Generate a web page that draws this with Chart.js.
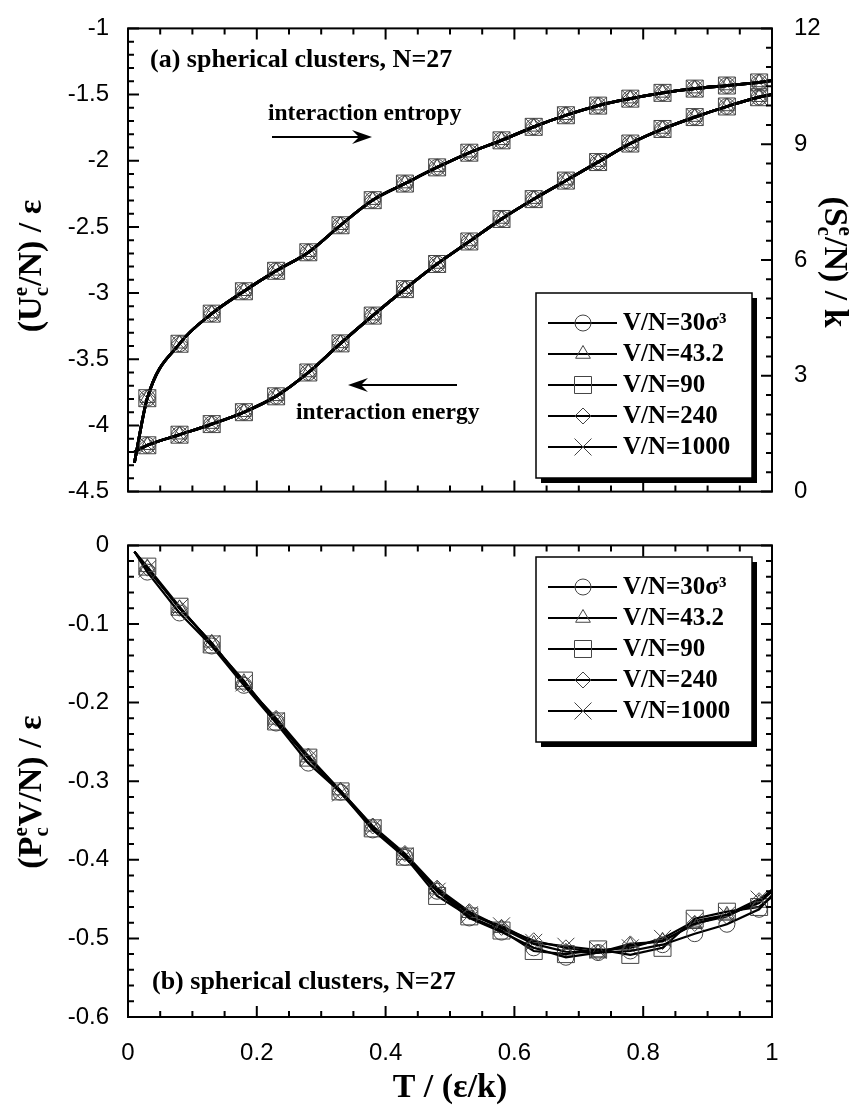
<!DOCTYPE html>
<html>
<head>
<meta charset="utf-8">
<script src="https://cdn.jsdelivr.net/npm/chart.js@4.4.1/dist/chart.umd.min.js"></script>
<style>
  html, body { margin: 0; padding: 0; background: #fff; }
  #wrap { position: relative; width: 864px; height: 1106px; }
  canvas { position: absolute; left: 0; }
  #topChart { top: 0; }
  #botChart { top: 520px; }
</style>
</head>
<body>
<div id="wrap">
  <canvas id="topChart" width="864" height="520"></canvas>
  <canvas id="botChart" width="864" height="586"></canvas>
</div>
<script>
// temperatures where the symbols sit
const temps = [0.03, 0.08, 0.13, 0.18, 0.23, 0.28, 0.33, 0.38, 0.43, 0.48,
               0.53, 0.58, 0.63, 0.68, 0.73, 0.78, 0.83, 0.88, 0.93, 0.98];
// the lines run a little further at both ends
const lineEndTemps = [0.01, 1.0];

const volumeLabels = ["V/N=30σ³", "V/N=43.2", "V/N=90", "V/N=240", "V/N=1000"];
const markerStyles = ["circle", "triangle", "rect", "rectRot", "crossRot"];
const markerSizes = [8, 8.5, 12, 8, 12];

// (a) interaction energy (left axis) and entropy (right axis), same for every volume
const energy = [-4.15, -4.07, -3.99, -3.90, -3.78, -3.60, -3.38, -3.17, -2.97, -2.78,
                -2.61, -2.44, -2.29, -2.15, -2.01, -1.87, -1.76, -1.67, -1.59, -1.52];
const energyEnds = [-4.20, -1.50];
const entropy = [2.42, 3.83, 4.61, 5.19, 5.72, 6.20, 6.90, 7.55, 7.98, 8.40,
                 8.78, 9.10, 9.45, 9.75, 10.00, 10.18, 10.33, 10.44, 10.52, 10.60];
const entropyEnds = [0.75, 10.65];

// (b) pressure contribution for each volume
const pressure30   = [-0.034, -0.086, -0.128, -0.178, -0.226, -0.277, -0.314, -0.362, -0.397, -0.440,
                      -0.474, -0.492, -0.512, -0.524, -0.518, -0.516, -0.508, -0.494, -0.482, -0.463];
const pressure43   = [-0.028, -0.080, -0.124, -0.174, -0.222, -0.270, -0.312, -0.358, -0.394, -0.438,
                      -0.468, -0.487, -0.507, -0.517, -0.518, -0.509, -0.503, -0.482, -0.470, -0.455];
const pressure90   = [-0.027, -0.078, -0.126, -0.172, -0.224, -0.270, -0.313, -0.360, -0.396, -0.446,
                      -0.472, -0.490, -0.516, -0.520, -0.514, -0.521, -0.512, -0.475, -0.466, -0.460];
const pressure240  = [-0.029, -0.080, -0.124, -0.176, -0.220, -0.268, -0.312, -0.357, -0.392, -0.436,
                      -0.466, -0.486, -0.503, -0.512, -0.518, -0.507, -0.504, -0.481, -0.472, -0.452];
const pressure1000 = [-0.030, -0.079, -0.125, -0.175, -0.223, -0.271, -0.315, -0.359, -0.395, -0.440,
                      -0.470, -0.484, -0.505, -0.510, -0.515, -0.512, -0.500, -0.478, -0.470, -0.450];
const pressureEnds = [[-0.008, -0.445], [-0.008, -0.440], [-0.008, -0.447], [-0.008, -0.438], [-0.008, -0.441]];
const pressure = [pressure30, pressure43, pressure90, pressure240, pressure1000];

const serif = "'Liberation Serif', 'Times New Roman', serif";
const sans = "'Liberation Sans', Arial, sans-serif";
const tickFont = { family: sans, size: 24 };
const markerColor = "#444";

function curve(values, ends) {
    const pts = temps.map((t, i) => ({ x: t, y: values[i] }));
    pts.unshift({ x: lineEndTemps[0], y: ends[0] });
    pts.push({ x: lineEndTemps[1], y: ends[1] });
    return pts;
}

function seriesDataset(i, data, axis, lineWidth, smooth) {
    return {
        label: volumeLabels[i],
        data: data,
        yAxisID: axis,
        borderColor: "#000",
        borderWidth: lineWidth,
        cubicInterpolationMode: smooth ? "monotone" : "default",
        tension: 0,
        fill: false,
        pointStyle: markerStyles[i],
        pointRadius: (c) =>
            c.dataIndex === 0 || c.dataIndex === data.length - 1 ? 0 : markerSizes[i],
        pointBorderColor: markerColor,
        pointBorderWidth: 1,
        pointBackgroundColor: "rgba(0,0,0,0)",
    };
}

function fmt(v) {
    return String(Number(v.toFixed(1)));
}

// walk minor tick positions, flag the major ones
function eachTick(min, max, minor, major, fn) {
    const n = Math.round((max - min) / minor);
    for (let k = 0; k <= n; k++) {
        const v = min + k * minor;
        const r = v / major;
        fn(v, Math.abs(r - Math.round(r)) < 1e-6);
    }
}

// box round the plot with inward ticks on all four sides
function drawFrame(chart, left, leftSteps, right, rightSteps) {
    const ctx = chart.ctx;
    const a = chart.chartArea;
    const x = chart.scales.x;
    ctx.save();
    ctx.strokeStyle = "#000";
    ctx.lineWidth = 2;
    ctx.strokeRect(a.left, a.top, a.right - a.left, a.bottom - a.top);
    ctx.beginPath();
    eachTick(0, 1, 0.05, 0.2, (v, big) => {
        const p = x.getPixelForValue(v);
        const len = big ? 11 : 6;
        ctx.moveTo(p, a.bottom); ctx.lineTo(p, a.bottom - len);
        ctx.moveTo(p, a.top); ctx.lineTo(p, a.top + len);
    });
    eachTick(left.min, left.max, leftSteps[1], leftSteps[0], (v, big) => {
        const p = left.getPixelForValue(v);
        ctx.moveTo(a.left, p); ctx.lineTo(a.left + (big ? 11 : 6), p);
    });
    eachTick(right.min, right.max, rightSteps[1], rightSteps[0], (v, big) => {
        const p = right.getPixelForValue(v);
        ctx.moveTo(a.right, p); ctx.lineTo(a.right - (big ? 11 : 6), p);
    });
    ctx.stroke();
    ctx.restore();
}

// text with stacked sub/superscripts, centred on (x, y)
function drawRich(ctx, parts, x, y, size) {
    const big = `bold ${size}px ${serif}`;
    const small = `bold ${Math.round(size * 0.62)}px ${serif}`;
    const widths = parts.map((p) => {
        if (typeof p === "string") {
            ctx.font = big;
            return ctx.measureText(p).width;
        }
        ctx.font = small;
        return Math.max(ctx.measureText(p.sub || "").width, ctx.measureText(p.sup || "").width) + 1;
    });
    const total = widths.reduce((s, w) => s + w, 0);
    let cx = x - total / 2;
    const base = y + size * 0.33;
    ctx.textAlign = "left";
    ctx.textBaseline = "alphabetic";
    parts.forEach((p, i) => {
        if (typeof p === "string") {
            ctx.font = big;
            ctx.fillText(p, cx, base);
        } else {
            ctx.font = small;
            if (p.sup) ctx.fillText(p.sup, cx, base - size * 0.42);
            if (p.sub) ctx.fillText(p.sub, cx, base + size * 0.2);
        }
        cx += widths[i];
    });
}

function arrow(ctx, x1, y, x2) {
    const dir = Math.sign(x2 - x1);
    ctx.lineWidth = 2;
    ctx.beginPath();
    ctx.moveTo(x1, y);
    ctx.lineTo(x2 - dir * 10, y);
    ctx.stroke();
    ctx.beginPath();
    ctx.moveTo(x2, y);
    ctx.lineTo(x2 - dir * 20, y - 7);
    ctx.lineTo(x2 - dir * 13, y);
    ctx.lineTo(x2 - dir * 20, y + 7);
    ctx.closePath();
    ctx.fill();
}

function drawLegend(ctx, top) {
    const left = 536, w = 216, h = 185;
    ctx.save();
    ctx.fillStyle = "#000";
    ctx.fillRect(left + 5, top + 5, w, h);
    ctx.fillStyle = "#fff";
    ctx.fillRect(left, top, w, h);
    ctx.strokeStyle = "#000";
    ctx.lineWidth = 1.5;
    ctx.strokeRect(left, top, w, h);
    volumeLabels.forEach((label, i) => {
        const y = top + 30 + i * 31;
        ctx.strokeStyle = "#000";
        ctx.lineWidth = 2;
        ctx.beginPath();
        ctx.moveTo(548, y);
        ctx.lineTo(617, y);
        ctx.stroke();
        ctx.fillStyle = "rgba(0,0,0,0)";
        ctx.strokeStyle = markerColor;
        ctx.lineWidth = 1;
        Chart.helpers.drawPoint(ctx, {
            pointStyle: markerStyles[i], radius: markerSizes[i], rotation: 0, borderWidth: 1,
        }, 583, y);
        ctx.fillStyle = "#000";
        ctx.font = `bold 25px ${serif}`;
        ctx.textAlign = "left";
        ctx.textBaseline = "middle";
        ctx.fillText(label, 623, y + 1);
    });
    ctx.restore();
}

const hiddenX = {
    type: "linear", min: 0, max: 1,
    grid: { display: false }, border: { display: false },
    ticks: { display: false },
};

// ---- (a) energy and entropy ----
const topDatasets = [];
volumeLabels.forEach((_, i) => {
    topDatasets.push(seriesDataset(i, curve(energy, energyEnds), "yU", 2.8, true));
    topDatasets.push(seriesDataset(i, curve(entropy, entropyEnds), "yS", 2.8, true));
});

new Chart(document.getElementById("topChart"), {
    type: "line",
    data: { datasets: topDatasets },
    options: {
        responsive: false,
        animation: false,
        layout: { padding: { top: 23, left: 0, right: 0, bottom: 0 } },
        plugins: { legend: { display: false }, tooltip: { enabled: false } },
        scales: {
            x: Object.assign({}, hiddenX, { afterFit: (s) => { s.height = 21; } }),
            yU: {
                position: "left", min: -4.5, max: -1,
                grid: { display: false }, border: { display: false },
                ticks: { stepSize: 0.5, font: tickFont, color: "#000", padding: 11, callback: fmt },
                afterFit: (s) => { s.width = 128; },
            },
            yS: {
                position: "right", min: 0, max: 12,
                grid: { display: false }, border: { display: false },
                ticks: { stepSize: 3, font: tickFont, color: "#000", padding: 14, callback: fmt },
                afterFit: (s) => { s.width = 92; },
            },
        },
    },
    plugins: [{
        id: "panelA",
        afterDraw: (chart) => {
            const ctx = chart.ctx;
            drawFrame(chart, chart.scales.yU, [0.5, 0.1], chart.scales.yS, [3, 0.5]);
            ctx.save();
            ctx.fillStyle = "#000";
            ctx.strokeStyle = "#000";
            ctx.textAlign = "left";
            ctx.textBaseline = "middle";
            ctx.font = `bold 26px ${serif}`;
            ctx.fillText("(a) spherical clusters, N=27", 150, 60);
            ctx.font = `bold 23.5px ${serif}`;
            ctx.fillText("interaction entropy", 268, 114);
            ctx.fillText("interaction energy", 296, 413);
            arrow(ctx, 272, 137, 372);
            arrow(ctx, 457, 385, 348);

            ctx.save();
            ctx.translate(30, 266);
            ctx.rotate(-Math.PI / 2);
            drawRich(ctx, ["(U", { sub: "c", sup: "e" }, "/N) / ε"], 0, 0, 34);
            ctx.restore();

            ctx.save();
            ctx.translate(836, 262);
            ctx.rotate(Math.PI / 2);
            drawRich(ctx, ["(S", { sub: "c", sup: "e" }, "/N) / k"], 0, 0, 34);
            ctx.restore();
            ctx.restore();

            drawLegend(ctx, 293);
        },
    }],
});

// ---- (b) pressure ----
const botDatasets = pressure.map((vals, i) =>
    seriesDataset(i, curve(vals, pressureEnds[i]), "y", 2.2, false));

new Chart(document.getElementById("botChart"), {
    type: "line",
    data: { datasets: botDatasets },
    options: {
        responsive: false,
        animation: false,
        layout: { padding: { top: 21, left: 0, right: 92, bottom: 0 } },
        plugins: { legend: { display: false }, tooltip: { enabled: false } },
        scales: {
            x: {
                type: "linear", min: 0, max: 1,
                grid: { display: false }, border: { display: false },
                ticks: { stepSize: 0.2, font: tickFont, color: "#000", padding: 14, maxRotation: 0, callback: fmt },
                afterFit: (s) => { s.height = 89; },
            },
            y: {
                position: "left", min: -0.6, max: 0,
                grid: { display: false }, border: { display: false },
                ticks: { stepSize: 0.1, font: tickFont, color: "#000", padding: 11, callback: fmt },
                afterFit: (s) => { s.width = 128; },
            },
        },
    },
    plugins: [{
        id: "panelB",
        afterDraw: (chart) => {
            const ctx = chart.ctx;
            const y = chart.scales.y;
            drawFrame(chart, y, [0.1, 0.02], y, [0.1, 0.02]);
            ctx.save();
            ctx.fillStyle = "#000";
            ctx.font = `bold 26px ${serif}`;
            ctx.textAlign = "left";
            ctx.textBaseline = "middle";
            ctx.fillText("(b) spherical clusters, N=27", 152, 462);

            ctx.save();
            ctx.translate(30, 272);
            ctx.rotate(-Math.PI / 2);
            drawRich(ctx, ["(P", { sub: "c", sup: "e" }, "V/N) / ε"], 0, 0, 34);
            ctx.restore();

            drawRich(ctx, ["T / (ε/k)"], 450, 566, 34);
            ctx.restore();

            drawLegend(ctx, 37);
        },
    }],
});
</script>
</body>
</html>
